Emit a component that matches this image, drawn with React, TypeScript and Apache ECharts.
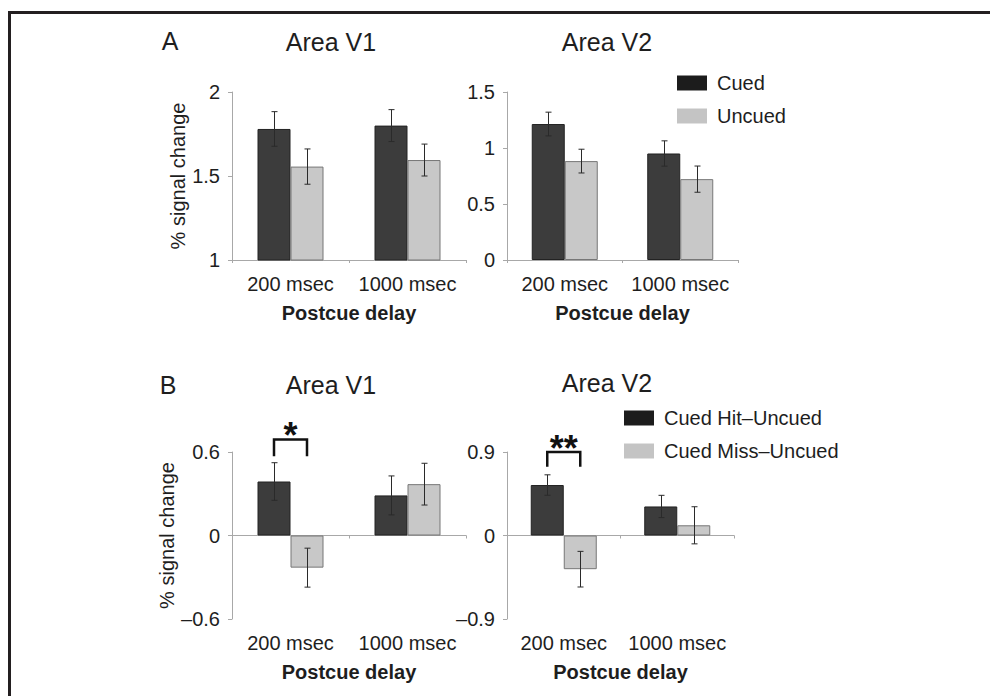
import React, { useEffect, useRef } from 'react';
import * as echarts from 'echarts';

// ---------- data ----------
const delays = ['200 msec', '1000 msec'];
const aSeriesNames = ['Cued', 'Uncued'];
const bSeriesNames = ['Cued Hit\u2013Uncued', 'Cued Miss\u2013Uncued'];

// Panel A, Area V1
const aV1Cued = [1.78, 1.8];
const aV1CuedErr = [0.103, 0.095];
const aV1Uncued = [1.556, 1.595];
const aV1UncuedErr = [0.105, 0.095];
// Panel A, Area V2
const aV2Cued = [1.214, 0.951];
const aV2CuedErr = [0.106, 0.113];
const aV2Uncued = [0.883, 0.722];
const aV2UncuedErr = [0.106, 0.117];
// Panel B, Area V1
const bV1Hit = [0.388, 0.288];
const bV1HitErr = [0.135, 0.14];
const bV1Miss = [-0.231, 0.369];
const bV1MissErr = [0.14, 0.15];
// Panel B, Area V2
const bV2Hit = [0.544, 0.313];
const bV2HitErr = [0.11, 0.12];
const bV2Miss = [-0.363, 0.11];
const bV2MissErr = [0.192, 0.2];

// significance brackets: [category index, bracket top value, leg end value]
const bV1Sig = [0, 0.69, 0.57];
const bV1SigLabel = '*';
const bV2Sig = [0, 0.9, 0.74];
const bV2SigLabel = '**';

// axis ranges
const aV1Axis = { min: 1, max: 2, interval: 0.5 };
const aV2Axis = { min: 0, max: 1.5, interval: 0.5 };
const bV1Axis = { min: -0.6, max: 0.6, interval: 0.6 };
const bV2Axis = { min: -0.9, max: 0.9, interval: 0.9 };

// ---------- style ----------
const FONT = "'Liberation Sans', Arial, Helvetica, sans-serif";
const TXT = '#1e1e1e';
const DARK = '#3c3c3c';
const LIGHT = '#c8c8c8';
const AXIS = '#a8a8a8';
const ERR = '#2a2a2a';
const BAR_W = 33;

function errData(a: number[], ae: number[], b: number[], be: number[]) {
  const out: number[][] = [];
  delays.forEach((_, i) => {
    out.push([i, 0, a[i] - ae[i], a[i] + ae[i]]);
    out.push([i, 1, b[i] - be[i], b[i] + be[i]]);
  });
  return out;
}

function errRender(params: any, api: any) {
  const cat = api.value(0);
  const side = api.value(1);
  const pLo = api.coord([cat, api.value(2)]);
  const pHi = api.coord([cat, api.value(3)]);
  const x = Math.round(pLo[0] + (side === 0 ? -0.5 : 0.5) * BAR_W) + 0.5;
  const cap = 3;
  const st = { stroke: ERR, lineWidth: 1 };
  return {
    type: 'group',
    children: [
      { type: 'line', shape: { x1: x, y1: pLo[1], x2: x, y2: pHi[1] }, style: st },
      { type: 'line', shape: { x1: x - cap, y1: pHi[1], x2: x + cap, y2: pHi[1] }, style: st },
      { type: 'line', shape: { x1: x - cap, y1: pLo[1], x2: x + cap, y2: pLo[1] }, style: st },
    ],
  };
}

function makeBracket(label: string) {
  return (params: any, api: any) => {
    const cat = api.value(0);
    const pTop = api.coord([cat, api.value(1)]);
    const pLeg = api.coord([cat, api.value(2)]);
    const xL = pTop[0] - BAR_W / 2;
    const xR = pTop[0] + BAR_W / 2;
    return {
      type: 'group',
      children: [
        {
          type: 'polyline',
          shape: { points: [[xL, pLeg[1]], [xL, pTop[1]], [xR, pTop[1]], [xR, pLeg[1]]] },
          style: { stroke: '#111', lineWidth: 2.5, fill: null },
        },
        {
          type: 'text',
          x: pTop[0],
          y: pTop[1] - 4,
          style: {
            text: label,
            fontSize: 36,
            fontWeight: 'bold',
            fontFamily: FONT,
            fill: '#111',
            align: 'center',
            verticalAlign: 'middle',
          },
        },
      ],
    };
  };
}

const fmt = (v: number) => String(Math.round(v * 100) / 100).replace('-', '\u2013');

function yAxis(grid: number, r: any, withName: boolean, nameGap: number) {
  return {
    type: 'value',
    gridIndex: grid,
    min: r.min,
    max: r.max,
    interval: r.interval,
    name: withName ? '% signal change' : '',
    nameLocation: 'middle',
    nameRotate: 90,
    nameGap,
    nameTextStyle: { fontSize: 20, color: TXT, fontFamily: FONT },
    axisLine: { show: true, lineStyle: { color: AXIS, width: 1 } },
    axisTick: { show: true, length: 4, lineStyle: { color: AXIS } },
    axisLabel: { fontSize: 20, color: TXT, fontFamily: FONT, margin: 12, formatter: fmt },
    splitLine: { show: false },
  };
}

function xAxisLabels(grid: number, showLine: boolean) {
  return {
    type: 'category',
    gridIndex: grid,
    data: delays,
    position: 'bottom',
    name: 'Postcue delay',
    nameLocation: 'middle',
    nameGap: 43,
    nameTextStyle: { fontSize: 20, fontWeight: 'bold', color: TXT, fontFamily: FONT },
    axisLine: { show: showLine, onZero: false, lineStyle: { color: AXIS, width: 1 } },
    axisTick: { show: showLine, length: 3, lineStyle: { color: AXIS } },
    axisLabel: { fontSize: 20, color: TXT, fontFamily: FONT, margin: 14, interval: 0, hideOverlap: false },
  };
}

function xAxisZero(grid: number) {
  return {
    type: 'category',
    gridIndex: grid,
    data: delays,
    position: 'bottom',
    axisLine: { show: true, onZero: true, lineStyle: { color: AXIS, width: 1 } },
    axisTick: { show: true, length: 3, lineStyle: { color: AXIS } },
    axisLabel: { show: false },
  };
}

function barPair(names: string[], xi: number, yi: number, a: number[], b: number[]) {
  return [
    {
      type: 'bar', name: names[0], xAxisIndex: xi, yAxisIndex: yi, data: a,
      barWidth: BAR_W, barGap: '0%', clip: true,
      itemStyle: { color: DARK, borderColor: '#222', borderWidth: 1 },
    },
    {
      type: 'bar', name: names[1], xAxisIndex: xi, yAxisIndex: yi, data: b,
      barWidth: BAR_W, barGap: '0%', clip: true,
      itemStyle: { color: LIGHT, borderColor: '#777', borderWidth: 1 },
    },
  ];
}

function errSeries(xi: number, yi: number, data: number[][]) {
  return {
    type: 'custom', xAxisIndex: xi, yAxisIndex: yi, data,
    encode: { x: 0, y: [2, 3] }, renderItem: errRender, silent: true, z: 5,
  };
}

function textEl(text: string, x: number, y: number) {
  return {
    type: 'text', x, y,
    style: { text, fontSize: 25, fontFamily: FONT, fill: TXT, align: 'center', verticalAlign: 'middle' },
  };
}

export default function App() {
  const ref = useRef<HTMLDivElement>(null);
  useEffect(() => {
    if (!ref.current) return;
    const chart = echarts.init(ref.current, undefined, { renderer: 'svg' });
    const legendCommon = {
      orient: 'vertical', itemWidth: 30, itemHeight: 15, itemGap: 13, padding: 0,
      icon: 'rect', selectedMode: false,
      textStyle: { fontSize: 20, color: TXT, fontFamily: FONT, padding: [0, 0, 0, 5] },
    };
    const option: any = {
      animation: false,
      backgroundColor: '#ffffff',
      textStyle: { fontFamily: FONT },
      grid: [
        { left: 232, top: 92, width: 234, height: 168 },
        { left: 507, top: 92, width: 231, height: 168 },
        { left: 232, top: 452, width: 234, height: 167 },
        { left: 507, top: 452, width: 227, height: 167 },
      ],
      xAxis: [
        xAxisLabels(0, true),
        xAxisLabels(1, true),
        xAxisLabels(2, false),
        xAxisLabels(3, false),
        xAxisZero(2),
        xAxisZero(3),
      ],
      yAxis: [
        yAxis(0, aV1Axis, true, 43),
        yAxis(1, aV2Axis, false, 40),
        yAxis(2, bV1Axis, true, 55),
        yAxis(3, bV2Axis, false, 40),
      ],
      legend: [
        {
          ...legendCommon, left: 677, top: 73,
          data: [
            { name: aSeriesNames[0], itemStyle: { color: '#1c1c1c', borderWidth: 0 } },
            { name: aSeriesNames[1], itemStyle: { color: '#c4c4c4', borderWidth: 0 } },
          ],
        },
        {
          ...legendCommon, left: 624, top: 408,
          data: [
            { name: bSeriesNames[0], itemStyle: { color: '#1c1c1c', borderWidth: 0 } },
            { name: bSeriesNames[1], itemStyle: { color: '#c4c4c4', borderWidth: 0 } },
          ],
        },
      ],
      series: [
        ...barPair(aSeriesNames, 0, 0, aV1Cued, aV1Uncued),
        errSeries(0, 0, errData(aV1Cued, aV1CuedErr, aV1Uncued, aV1UncuedErr)),
        ...barPair(aSeriesNames, 1, 1, aV2Cued, aV2Uncued),
        errSeries(1, 1, errData(aV2Cued, aV2CuedErr, aV2Uncued, aV2UncuedErr)),
        ...barPair(bSeriesNames, 2, 2, bV1Hit, bV1Miss),
        errSeries(2, 2, errData(bV1Hit, bV1HitErr, bV1Miss, bV1MissErr)),
        ...barPair(bSeriesNames, 3, 3, bV2Hit, bV2Miss),
        errSeries(3, 3, errData(bV2Hit, bV2HitErr, bV2Miss, bV2MissErr)),
        {
          type: 'custom', xAxisIndex: 2, yAxisIndex: 2, data: [bV1Sig],
          encode: { x: 0, y: [1, 2] }, renderItem: makeBracket(bV1SigLabel), silent: true, z: 6,
        },
        {
          type: 'custom', xAxisIndex: 3, yAxisIndex: 3, data: [bV2Sig],
          encode: { x: 0, y: [1, 2] }, renderItem: makeBracket(bV2SigLabel), silent: true, z: 6,
        },
      ],
      graphic: [
        { type: 'rect', shape: { x: 8, y: 11, width: 982, height: 3 }, style: { fill: '#231f20' } },
        { type: 'rect', shape: { x: 8, y: 11, width: 3, height: 685 }, style: { fill: '#231f20' } },
        textEl('A', 170, 41),
        textEl('Area V1', 331, 42),
        textEl('Area V2', 607, 42),
        textEl('B', 168, 385),
        textEl('Area V1', 331, 385),
        textEl('Area V2', 607, 383),
      ],
    };
    chart.setOption(option);
    return () => chart.dispose();
  }, []);
  return (
    <div
      ref={ref}
      style={{ position: 'absolute', left: 0, top: 0, width: 990, height: 696, background: '#fff' }}
    />
  );
}
